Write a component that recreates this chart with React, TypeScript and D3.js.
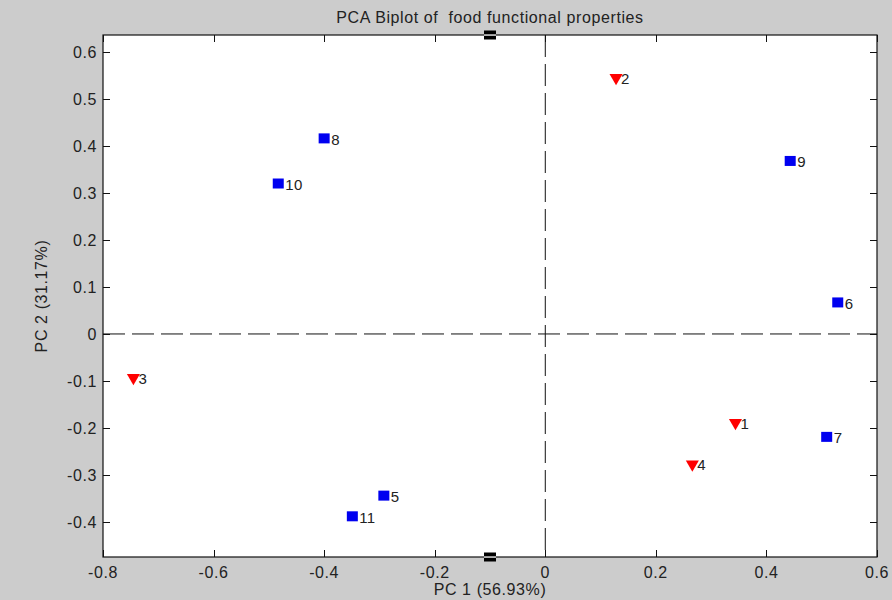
import { useEffect, useRef } from 'react';
import * as d3 from 'd3';

// scores
const triLabels = ['1', '2', '3', '4'];
const triPC1 = [0.344, 0.128, -0.745, 0.266];
const triPC2 = [-0.189, 0.545, -0.093, -0.277];

const sqLabels = ['5', '6', '7', '8', '9', '10', '11'];
const sqPC1 = [-0.292, 0.529, 0.509, -0.4, 0.443, -0.483, -0.349];
const sqPC2 = [-0.345, 0.066, -0.22, 0.415, 0.367, 0.319, -0.389];

const xTicks = [-0.8, -0.6, -0.4, -0.2, 0, 0.2, 0.4, 0.6];
const yTicks = [-0.4, -0.3, -0.2, -0.1, 0, 0.1, 0.2, 0.3, 0.4, 0.5, 0.6];
const edgeMarkX = [-0.1];

const W = 892;
const H = 600;
const m = { left: 103, right: 15, top: 35, bottom: 43 };
const font = '"Liberation Sans", Arial, sans-serif';
const ink = '#222';

const fmt = (t: number) => (t === 0 ? '0' : t.toFixed(1));

export default function App() {
  const ref = useRef<SVGSVGElement | null>(null);

  useEffect(() => {
    document.body.style.margin = '0';
    const svg = d3.select(ref.current);
    svg.selectAll('*').remove();

    const x = d3.scaleLinear().domain([-0.8, 0.6]).range([m.left, W - m.right]);
    const y = d3.scaleLinear().domain([-0.4745, 0.636]).range([H - m.bottom, m.top]);
    const [x0, x1] = x.range();
    const [y0, y1] = y.range();

    svg.append('rect').attr('width', W).attr('height', H).attr('fill', '#cccccc');
    svg.append('rect')
      .attr('x', x0).attr('y', y1).attr('width', x1 - x0).attr('height', y0 - y1)
      .attr('fill', '#fff');

    // zero lines
    svg.append('line')
      .attr('x1', x0).attr('x2', x1).attr('y1', y(0)).attr('y2', y(0))
      .attr('stroke', '#111').attr('stroke-width', 1).attr('stroke-dasharray', '22,7');
    svg.append('line')
      .attr('x1', x(0)).attr('x2', x(0)).attr('y1', y1).attr('y2', y0)
      .attr('stroke', '#111').attr('stroke-width', 1).attr('stroke-dasharray', '22,7');

    // inward ticks, all four sides
    const tk = 7;
    const ticks = svg.append('g').attr('stroke', '#111').attr('stroke-width', 1);
    xTicks.forEach(t => {
      const px = Math.round(x(t)) + 0.5;
      ticks.append('line').attr('x1', px).attr('x2', px).attr('y1', y0).attr('y2', y0 - tk);
      ticks.append('line').attr('x1', px).attr('x2', px).attr('y1', y1).attr('y2', y1 + tk);
    });
    yTicks.forEach(t => {
      const py = Math.round(y(t)) + 0.5;
      ticks.append('line').attr('x1', x0).attr('x2', x0 + tk).attr('y1', py).attr('y2', py);
      ticks.append('line').attr('x1', x1).attr('x2', x1 - tk).attr('y1', py).attr('y2', py);
    });

    svg.append('rect')
      .attr('x', x0).attr('y', y1).attr('width', x1 - x0).attr('height', y0 - y1)
      .attr('fill', 'none').attr('stroke', '#111').attr('stroke-width', 1.2);

    const axisTxt = svg.append('g').attr('font-family', font).attr('font-size', 16)
      .attr('letter-spacing', 0.6).attr('fill', ink);
    xTicks.forEach(t => {
      axisTxt.append('text').attr('x', x(t)).attr('y', y0 + 21).attr('text-anchor', 'middle')
        .text(fmt(t));
    });
    yTicks.forEach(t => {
      axisTxt.append('text').attr('x', x0 - 6).attr('y', y(t) + 6).attr('text-anchor', 'end')
        .text(fmt(t));
    });

    axisTxt.append('text').attr('x', (x0 + x1) / 2).attr('y', 23).attr('text-anchor', 'middle')
      .style('white-space', 'pre')
      .text('PCA Biplot of  food functional properties');
    axisTxt.append('text').attr('x', (x0 + x1) / 2).attr('y', 595).attr('text-anchor', 'middle')
      .text('PC 1 (56.93%)');
    axisTxt.append('text')
      .attr('transform', `translate(47, ${(y0 + y1) / 2}) rotate(-90)`)
      .attr('text-anchor', 'middle')
      .text('PC 2 (31.17%)');

    // small black marks on the top and bottom edges
    edgeMarkX.forEach(v => {
      [y1, y0].forEach(py => {
        const g = svg.append('g').attr('transform', `translate(${x(v)}, ${py})`);
        g.append('rect').attr('x', -6).attr('y', -4.5).attr('width', 12).attr('height', 9).attr('fill', '#000');
        g.append('rect').attr('x', -6).attr('y', -0.6).attr('width', 12).attr('height', 1.3).attr('fill', '#fff');
      });
    });

    const ptTxt = svg.append('g').attr('font-family', font).attr('font-size', 15)
      .attr('letter-spacing', 0.3).attr('fill', ink);

    const tri = d3.symbol(d3.symbolTriangle, 74)();
    triLabels.forEach((lab, i) => {
      const px = x(triPC1[i]);
      const py = y(triPC2[i]);
      svg.append('path').attr('d', tri)
        .attr('transform', `translate(${px}, ${py}) rotate(180)`)
        .attr('fill', '#f00');
      ptTxt.append('text').attr('x', px + 5).attr('y', py + 6).text(lab);
    });

    const s = 11;
    sqLabels.forEach((lab, i) => {
      const px = x(sqPC1[i]);
      const py = y(sqPC2[i]);
      svg.append('rect').attr('x', px - s / 2).attr('y', py - s / 2)
        .attr('width', s).attr('height', s - 1).attr('fill', '#0000f0');
      ptTxt.append('text').attr('x', px + 7).attr('y', py + 6).text(lab);
    });
    ptTxt.raise();
  }, []);

  return <svg ref={ref} width={W} height={H} style={{ display: 'block' }} />;
}
